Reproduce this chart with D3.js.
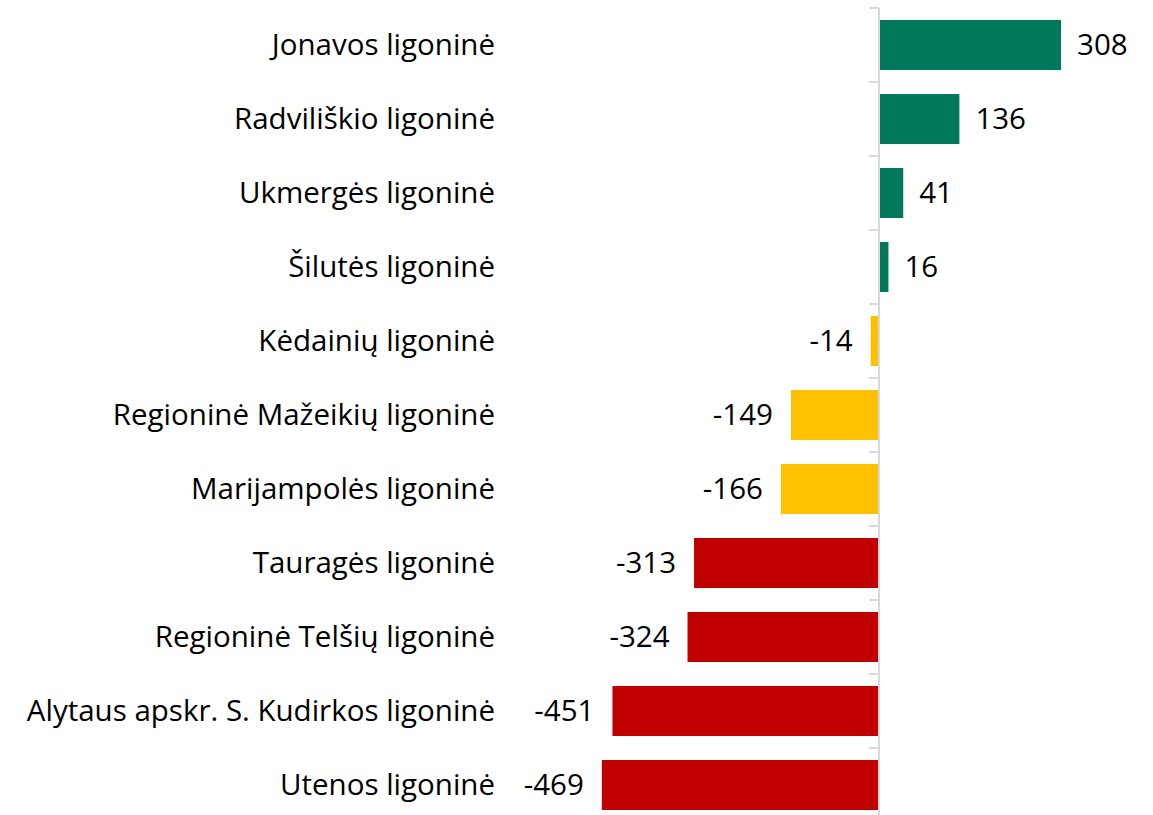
<!DOCTYPE html>
<html lang="lt">
<head>
  <meta charset="UTF-8">
  <title>Ligoninės</title>
  <script src="https://d3js.org/d3.v7.min.js"></script>
  <style>
    body { margin: 0; background: #fff; font-family: "Open Sans", Arial, sans-serif; }
    svg { display: block; }
  </style>
</head>
<body>
<div id="chart"></div>
<script>
  // chart data
  const hospitals = [
    "Jonavos ligoninė",
    "Radviliškio ligoninė",
    "Ukmergės ligoninė",
    "Šilutės ligoninė",
    "Kėdainių ligoninė",
    "Regioninė Mažeikių ligoninė",
    "Marijampolės ligoninė",
    "Tauragės ligoninė",
    "Regioninė Telšių ligoninė",
    "Alytaus apskr. S. Kudirkos ligoninė",
    "Utenos ligoninė"
  ];
  const values = [308, 136, 41, 16, -14, -149, -166, -313, -324, -451, -469];
  const groups = ["good", "good", "good", "good", "mid", "mid", "mid", "bad", "bad", "bad", "bad"];

  const width = 1153, height = 815;

  const color = d3.scaleOrdinal()
    .domain(["good", "mid", "bad"])
    .range(["#00785a", "#ffc000", "#c00000"]);

  const y = d3.scaleBand()
    .domain(hospitals)
    .range([8, 822])
    .paddingInner(0.324)
    .paddingOuter(0.162);

  const x = d3.scaleLinear()
    .domain([-500, 350])
    .range([583.5, 1085.85]);

  const svg = d3.select("#chart").append("svg")
    .attr("width", width)
    .attr("height", height);

  const rows = hospitals.map((h, i) => ({name: h, value: values[i], group: groups[i]}));

  // bars
  svg.append("g").selectAll("rect")
    .data(rows)
    .join("rect")
    .attr("x", d => x(Math.min(0, d.value)))
    .attr("y", d => y(d.name))
    .attr("width", d => Math.abs(x(d.value) - x(0)))
    .attr("height", y.bandwidth())
    .attr("fill", d => color(d.group));

  // zero axis with ticks between categories
  const axis = svg.append("g").attr("stroke", "#d9d9d9").attr("stroke-width", 2);
  axis.append("line")
    .attr("x1", x(0)).attr("x2", x(0))
    .attr("y1", 8).attr("y2", 822);
  axis.selectAll("line.tick")
    .data(d3.range(hospitals.length + 1))
    .join("line")
    .attr("class", "tick")
    .attr("x1", x(0) - 10).attr("x2", x(0))
    .attr("y1", i => 8 + i * y.step())
    .attr("y2", i => 8 + i * y.step());

  // category labels
  svg.append("g").selectAll("text")
    .data(rows)
    .join("text")
    .attr("x", 495)
    .attr("y", d => y(d.name) + y.bandwidth() / 2)
    .attr("dy", "0.35em")
    .attr("text-anchor", "end")
    .attr("font-size", 29.5)
    .attr("fill", "#000")
    .text(d => d.name);

  // value labels
  svg.append("g").selectAll("text")
    .data(rows)
    .join("text")
    .attr("x", d => d.value >= 0 ? x(d.value) + 16 : x(d.value) - 18)
    .attr("y", d => y(d.name) + y.bandwidth() / 2)
    .attr("dy", "0.35em")
    .attr("text-anchor", d => d.value >= 0 ? "start" : "end")
    .attr("font-size", 29.5)
    .attr("fill", "#000")
    .text(d => d.value);
</script>
</body>
</html>
